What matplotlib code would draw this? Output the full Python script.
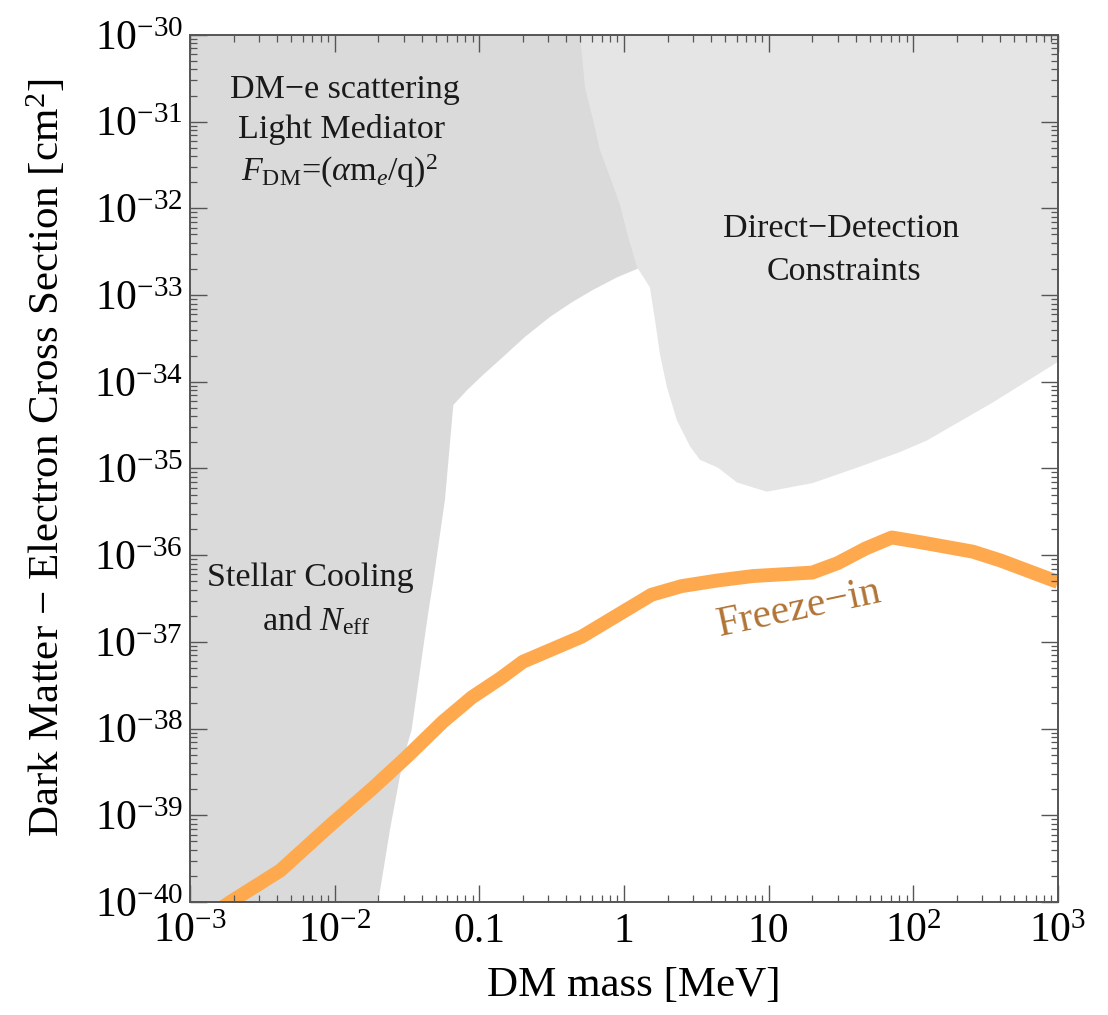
import numpy as np
import matplotlib
matplotlib.use("Agg")
import matplotlib.pyplot as plt
from matplotlib.ticker import LogLocator, FixedLocator, NullFormatter

# freeze-in curve (DM mass [MeV], cross section [cm^2])
freeze_mass = [1.0e-3, 1.9e-3, 4.2e-3, 9.5e-3, 1.8e-2, 3.1e-2, 5.6e-2, 8.9e-2,
               0.14, 0.20, 0.51, 1.55, 2.5, 4.4, 7.8, 20, 30, 47, 71, 115,
               257, 400, 1000]
freeze_sigma = [4.8e-41, 1.0e-40, 2.3e-40, 7.9e-40, 2.0e-39, 4.6e-39, 1.2e-38,
                2.3e-38, 3.8e-38, 5.9e-38, 1.15e-37, 3.5e-37, 4.4e-37, 5.1e-37,
                5.75e-37, 6.3e-37, 8.1e-37, 1.2e-36, 1.6e-36, 1.4e-36, 1.1e-36,
                8.7e-37, 4.9e-37]

# stellar cooling / N_eff edge (runs under the direct-detection region at the end)
stellar_mass = [0.0200, 0.0241, 0.0297, 0.0340, 0.0410, 0.0443, 0.0481, 0.0579,
                0.0661, 0.0822, 0.106, 0.139, 0.207, 0.308, 0.438, 0.611,
                0.894, 1.23, 2.0]
stellar_sigma = [1e-40, 6.8e-40, 4.4e-39, 9.6e-39, 8.7e-38, 2.15e-37, 5.1e-37,
                 4.4e-36, 5.4e-35, 8.0e-35, 1.2e-34, 1.8e-34, 3.3e-34, 5.6e-34,
                 8.3e-34, 1.15e-33, 1.6e-33, 2.0e-33, 3.5e-33]

# direct-detection lower edge
dd_mass = [0.497, 0.537, 0.611, 0.682, 0.80, 0.938, 1.05, 1.23, 1.51, 1.64,
           1.77, 1.98, 2.32, 2.86, 3.35, 4.47, 6.04, 9.7, 20.2, 42.8, 81, 124,
           356, 1000]
dd_sigma = [1e-30, 2.5e-31, 1.05e-31, 4.7e-32, 2.3e-32, 1.1e-32, 5.2e-33,
            2.1e-33, 1.23e-33, 5.1e-34, 2.1e-34, 8.7e-35, 3.6e-35, 1.8e-35,
            1.26e-35, 1.02e-35, 6.9e-36, 5.4e-36, 6.8e-36, 1.05e-35, 1.55e-35,
            2.1e-35, 5.8e-35, 1.7e-34]

xtick_vals = [1e-3, 1e-2, 0.1, 1, 10, 1e2, 1e3]
xtick_labels = ["$10^{-3}$", "$10^{-2}$", "0.1", "1", "10", "$10^{2}$", "$10^{3}$"]
ytick_vals = [10.0 ** -k for k in range(30, 41)]
ytick_labels = ["$10^{-%d}$" % k for k in range(30, 41)]

XMIN, XMAX = 1e-3, 1e3
YMIN, YMAX = 1e-40, 1e-30

C_STELLAR = "#DADADA"
C_DD = "#E5E5E5"
C_FREEZE = "#FFA94F"
C_FREEZE_TXT = "#B07436"
AXC = "#555555"

plt.rcParams.update({
    "font.family": ["Liberation Serif", "DejaVu Serif"],
    "mathtext.fontset": "custom",
    "mathtext.rm": "Liberation Serif",
    "mathtext.it": "Liberation Serif:italic",
    "mathtext.bf": "Liberation Serif:bold",
})

fig = plt.figure(figsize=(11.08, 10.15), dpi=100)
ax = fig.add_axes([0.17148, 0.11133, 0.78339, 0.85419])

# shaded regions
sx = [XMIN] + stellar_mass + [stellar_mass[-1], XMIN]
sy = [YMIN] + stellar_sigma + [YMAX, YMAX]
ax.fill(sx, sy, color=C_STELLAR, lw=0, zorder=1)

dx = dd_mass + [XMAX]
dy = dd_sigma + [YMAX]
ax.fill(dx, dy, color=C_DD, lw=0, zorder=1.2)

ax.plot(freeze_mass, freeze_sigma, color=C_FREEZE, lw=10, zorder=2,
        solid_capstyle="butt")

ax.set_xscale("log")
ax.set_yscale("log")
ax.set_xlim(XMIN, XMAX)
ax.set_ylim(YMIN, YMAX)
ax.set_axisbelow(False)

ax.xaxis.set_major_locator(FixedLocator(xtick_vals))
ax.set_xticklabels(xtick_labels)
ax.yaxis.set_major_locator(FixedLocator(ytick_vals))
ax.set_yticklabels(ytick_labels)
ax.xaxis.set_minor_locator(LogLocator(base=10, subs=np.arange(2, 10), numticks=20))
ax.yaxis.set_minor_locator(LogLocator(base=10, subs=np.arange(2, 10), numticks=20))
ax.xaxis.set_minor_formatter(NullFormatter())
ax.yaxis.set_minor_formatter(NullFormatter())

ax.tick_params(which="both", direction="in", top=True, right=True,
               color=AXC, labelsize=30)
ax.tick_params(which="major", length=12, width=1.0)
ax.tick_params(which="minor", length=5, width=0.9)
ax.tick_params(axis="x", which="major", pad=29)
ax.tick_params(axis="y", which="major", pad=5)
for lab in ax.get_xticklabels():
    lab.set_verticalalignment("baseline")

for s in ax.spines.values():
    s.set_color(AXC)
    s.set_linewidth(1.4)
    s.set_zorder(5)

ax.set_xlabel("DM mass [MeV]", fontsize=31)
ax.set_ylabel("Dark Matter \u2212 Electron Cross Section [cm$^2$]", fontsize=31)
ax.xaxis.set_label_coords(0.511, -0.074)
ax.yaxis.set_label_coords(-0.1405, 0.512)

tk = dict(transform=ax.transAxes, ha="center", va="center", fontsize=24.5,
          color="#1a1a1a", zorder=6)
ax.text(0.1786, 0.937, "DM\u2212e scattering", **tk)
ax.text(0.1745, 0.8905, "Light Mediator", **tk)
ax.text(0.1725, 0.843, r"$F_{\rm DM}$=($\alpha$m$_e$/q)$^2$", **tk)
ax.text(0.139, 0.374, "Stellar Cooling", **tk)
ax.text(0.145, 0.324, r"and $N_{\rm eff}$", **tk)
ax.text(0.750, 0.776, "Direct\u2212Detection", **tk)
ax.text(0.753, 0.727, "Constraints", **tk)
ax.text(0.7016, 0.338, "Freeze\u2212in", transform=ax.transAxes, ha="center",
        va="center", fontsize=30, color=C_FREEZE_TXT, rotation=12, zorder=6)

fig.savefig("out.png", dpi=100)
